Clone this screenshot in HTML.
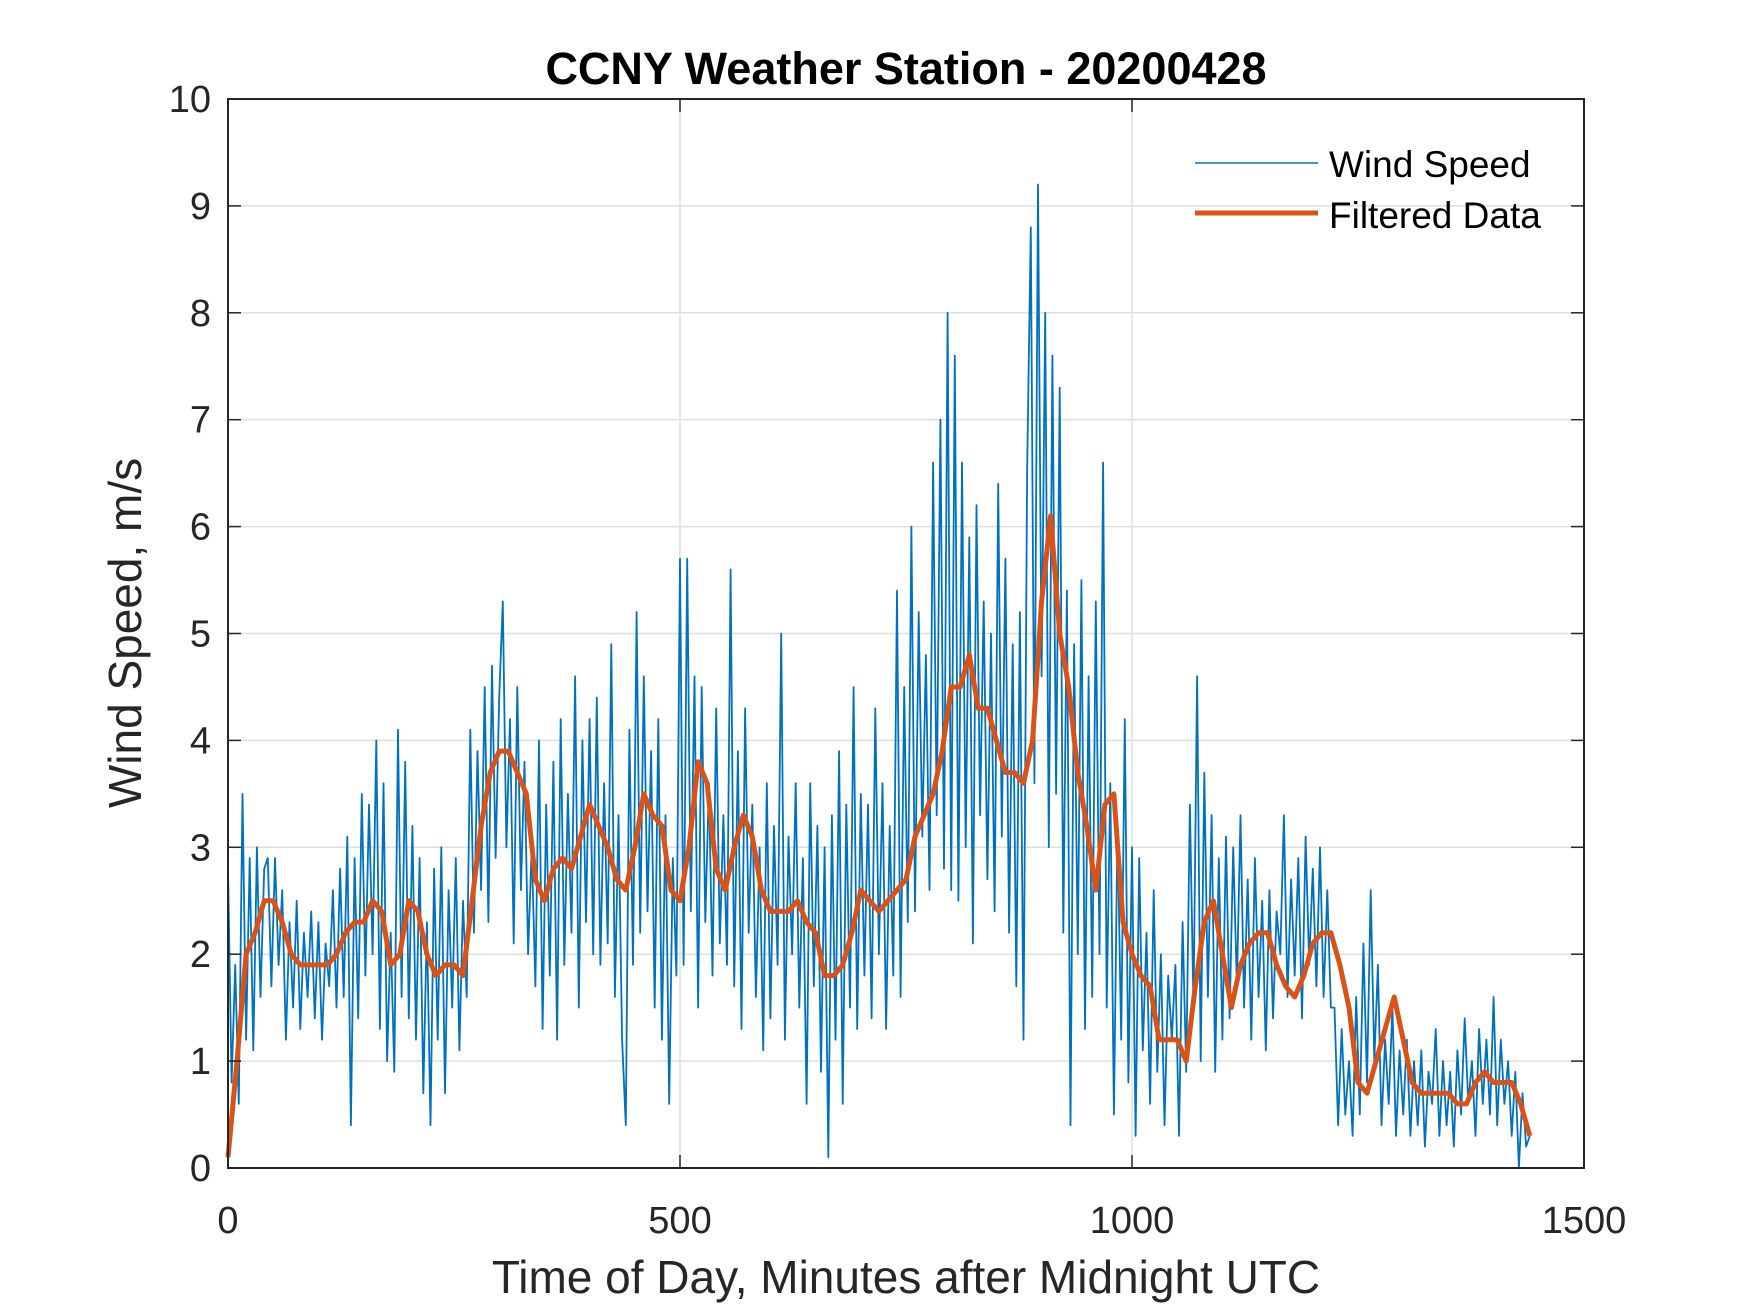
<!DOCTYPE html>
<html><head><meta charset="utf-8"><style>
html,body{margin:0;padding:0;background:#fff;}
svg{display:block;font-family:"Liberation Sans",Arial,sans-serif;}
</style></head><body>
<svg id="chart" width="1750" height="1313" viewBox="0 0 1750 1313" xmlns="http://www.w3.org/2000/svg">
<rect x="0" y="0" width="1750" height="1313" fill="#fff"/>
<g id="grid"></g>
<g id="series"></g>
<g id="axes"></g>
<text x="906" y="84" text-anchor="middle" font-size="45" font-weight="bold" fill="#000">CCNY Weather Station - 20200428</text>
<text x="906" y="1293" text-anchor="middle" font-size="46" fill="#262626">Time of Day, Minutes after Midnight UTC</text>
<text x="0" y="0" transform="translate(141,633) rotate(-90)" text-anchor="middle" font-size="46" fill="#262626">Wind Speed, m/s</text>
<g>
<line x1="1195" y1="163" x2="1318" y2="163" stroke="#0072BD" stroke-width="1.5"/>
<text x="1329" y="177" font-size="37" fill="#000">Wind Speed</text>
<line x1="1195" y1="213" x2="1318" y2="213" stroke="#D95319" stroke-width="5"/>
<text x="1329" y="228" font-size="37" fill="#000">Filtered Data</text>
</g>
</svg>
<script>
const xTicks=[0,500,1000,1500];
const yTicks=[0,1,2,3,4,5,6,7,8,9,10];
const rawStep=4;
const rawValues=[
2.8,0.8,1.9,0.6,3.5,1.2,2.9,1.1,3.0,1.6,2.8,2.9,1.7,2.9,1.9,2.6,1.2,2.3,1.5,2.5,1.3,2.2,1.6,2.4,1.4,
2.3,1.2,2.1,1.7,2.6,1.5,2.8,1.6,3.1,0.4,2.9,1.4,3.5,1.8,3.4,2.0,4.0,1.3,3.6,1.0,2.2,0.9,4.1,1.6,3.8,
1.4,3.2,1.2,2.9,0.7,2.3,0.4,2.8,1.2,3.0,0.7,2.6,1.5,2.9,1.1,2.5,1.6,4.1,2.2,3.9,2.6,4.5,2.3,4.7,2.9,
4.4,5.3,3.0,4.2,2.1,4.5,2.6,3.8,2.0,3.0,1.7,4.0,1.3,3.4,1.8,3.8,1.2,4.2,1.9,3.5,2.2,4.6,1.5,4.0,2.3,
4.2,2.0,4.4,1.9,3.6,2.1,4.9,1.6,3.3,1.2,0.4,4.1,1.9,5.2,2.2,4.6,2.4,3.9,1.5,4.2,1.2,3.3,0.6,2.9,1.8,
5.7,1.9,5.7,2.4,4.6,1.5,4.5,2.3,3.6,1.8,4.3,2.1,3.3,1.9,5.6,1.7,3.9,1.3,4.3,2.2,3.4,1.6,3.0,1.1,3.6,
1.4,3.2,1.9,5.0,1.2,3.1,2.0,3.6,1.5,2.9,0.6,3.6,1.7,3.2,0.9,3.0,0.1,3.3,1.2,3.9,0.6,3.4,1.5,4.5,1.3,
3.5,1.8,3.4,1.4,4.3,2.0,3.6,1.3,3.2,1.8,5.4,1.6,4.5,2.3,6.0,2.4,5.2,3.1,4.8,2.6,6.6,3.3,7.0,2.8,8.0,
2.6,7.6,2.5,6.6,3.0,5.9,2.1,6.2,3.3,5.3,2.7,5.0,2.4,6.4,3.1,5.7,2.2,4.9,1.7,5.2,1.2,6.5,8.8,3.6,9.2,
4.6,8.0,3.0,7.6,3.5,7.3,2.2,5.4,0.4,4.9,2.0,5.5,1.3,4.6,1.6,5.3,2.0,6.6,1.5,3.6,0.5,3.2,1.2,4.2,0.8,
3.0,0.3,2.9,1.1,2.2,0.6,2.6,0.9,2.0,0.4,1.8,1.2,1.9,0.3,2.3,0.9,3.4,1.5,4.6,1.0,3.7,1.6,3.3,0.9,2.9,
1.2,3.1,1.4,3.0,1.7,3.3,1.5,2.7,1.2,2.9,1.6,2.5,1.1,2.6,1.4,2.4,2.0,3.3,1.6,2.7,1.8,2.9,1.4,3.1,1.9,
2.8,1.7,3.0,1.6,2.6,1.5,1.5,0.4,1.3,0.5,1.0,0.3,1.6,0.5,2.1,0.8,2.6,1.0,1.9,0.4,1.2,0.6,1.5,0.3,1.1,
0.5,1.2,0.3,1.0,0.4,1.1,0.2,0.9,0.6,1.3,0.3,1.0,0.4,0.9,0.2,1.1,0.5,1.4,0.6,1.0,0.3,1.3,0.6,1.2,0.5,
1.6,0.4,1.2,0.6,1.0,0.3,0.9,0.0,0.7,0.2,0.3];
const filtStep=10;
const filteredValues=[
0.1,1.0,2.0,2.2,2.5,2.5,2.3,2.0,1.9,1.9,1.9,1.9,2.0,2.2,2.3,2.3,2.5,2.4,1.9,2.0,2.5,2.4,2.0,1.8,1.9,1.9,1.8,2.5,3.2,3.7,
3.9,3.9,3.7,3.5,2.7,2.5,2.8,2.9,2.8,3.1,3.4,3.2,3.0,2.7,2.6,3.0,3.5,3.3,3.2,2.6,2.5,3.0,3.8,3.6,2.8,2.6,3.0,3.3,3.1,2.6,
2.4,2.4,2.4,2.5,2.3,2.2,1.8,1.8,1.9,2.2,2.6,2.5,2.4,2.5,2.6,2.7,3.1,3.3,3.5,3.9,4.5,4.5,4.8,4.3,4.3,4.0,3.7,3.7,3.6,4.0,
5.3,6.1,5.0,4.5,3.7,3.2,2.6,3.4,3.5,2.3,2.0,1.8,1.7,1.2,1.2,1.2,1.0,1.7,2.3,2.5,2.0,1.5,1.9,2.1,2.2,2.2,1.9,1.7,1.6,1.8,
2.1,2.2,2.2,1.9,1.5,0.8,0.7,1.0,1.3,1.6,1.2,0.8,0.7,0.7,0.7,0.7,0.6,0.6,0.8,0.9,0.8,0.8,0.8,0.6,0.3];
const L=228,R=1584,T=99,B=1168,XMAX=1500,YMAX=10;
function xs(v){return L+(v/XMAX)*(R-L);}
function ys(v){return B-(v/YMAX)*(B-T);}
const NS="http://www.w3.org/2000/svg";
function mk(tag,attrs,parent){const e=document.createElementNS(NS,tag);for(const k in attrs)e.setAttribute(k,attrs[k]);parent.appendChild(e);return e;}
const grid=document.getElementById('grid'),axes=document.getElementById('axes'),series=document.getElementById('series');
xTicks.forEach(t=>{
  if(t>0&&t<XMAX){const g=mk('line',{x1:xs(t),x2:xs(t),y1:T,y2:B,stroke:'#dfdfdf','stroke-width':1.5},grid);
  
  }
  const a=mk('line',{x1:xs(t),x2:xs(t),y1:B,y2:B-13,stroke:'#262626','stroke-width':1.5},axes);
  
  
  const a2=mk('line',{x1:xs(t),x2:xs(t),y1:T,y2:T+13,stroke:'#262626','stroke-width':1.5},axes);
  
  
  const tx=mk('text',{x:xs(t),y:1233,'text-anchor':'middle','font-size':38,fill:'#262626'},axes);
  tx.textContent=t;
  
  
});
yTicks.forEach(t=>{
  if(t>0&&t<YMAX){const g=mk('line',{x1:L,x2:R,y1:ys(t),y2:ys(t),stroke:'#dfdfdf','stroke-width':1.5},grid);
  
  }
  const a=mk('line',{x1:L,x2:L+13,y1:ys(t),y2:ys(t),stroke:'#262626','stroke-width':1.5},axes);
  
  
  const a2=mk('line',{x1:R,x2:R-13,y1:ys(t),y2:ys(t),stroke:'#262626','stroke-width':1.5},axes);
  
  
  const tx=mk('text',{x:L-17,y:ys(t)+13,'text-anchor':'end','font-size':38,fill:'#262626'},axes);
  tx.textContent=t;
  
  
});
const box=mk('rect',{x:L,y:T,width:R-L,height:B-T,fill:'none',stroke:'#262626','stroke-width':2},axes);


const rawPts=rawValues.map((v,i)=>xs(i*rawStep).toFixed(1)+','+ys(v).toFixed(1)).join(' ');
const rl=mk('polyline',{points:rawPts,fill:'none',stroke:'#0072BD','stroke-width':1.8,'stroke-linejoin':'round'},series);


const fPts=filteredValues.map((v,i)=>xs(i*filtStep).toFixed(1)+','+ys(v).toFixed(1)).join(' ');
const fl=mk('polyline',{points:fPts,fill:'none',stroke:'#D95319','stroke-width':5,'stroke-linejoin':'round'},series);


</script>
</body></html>
